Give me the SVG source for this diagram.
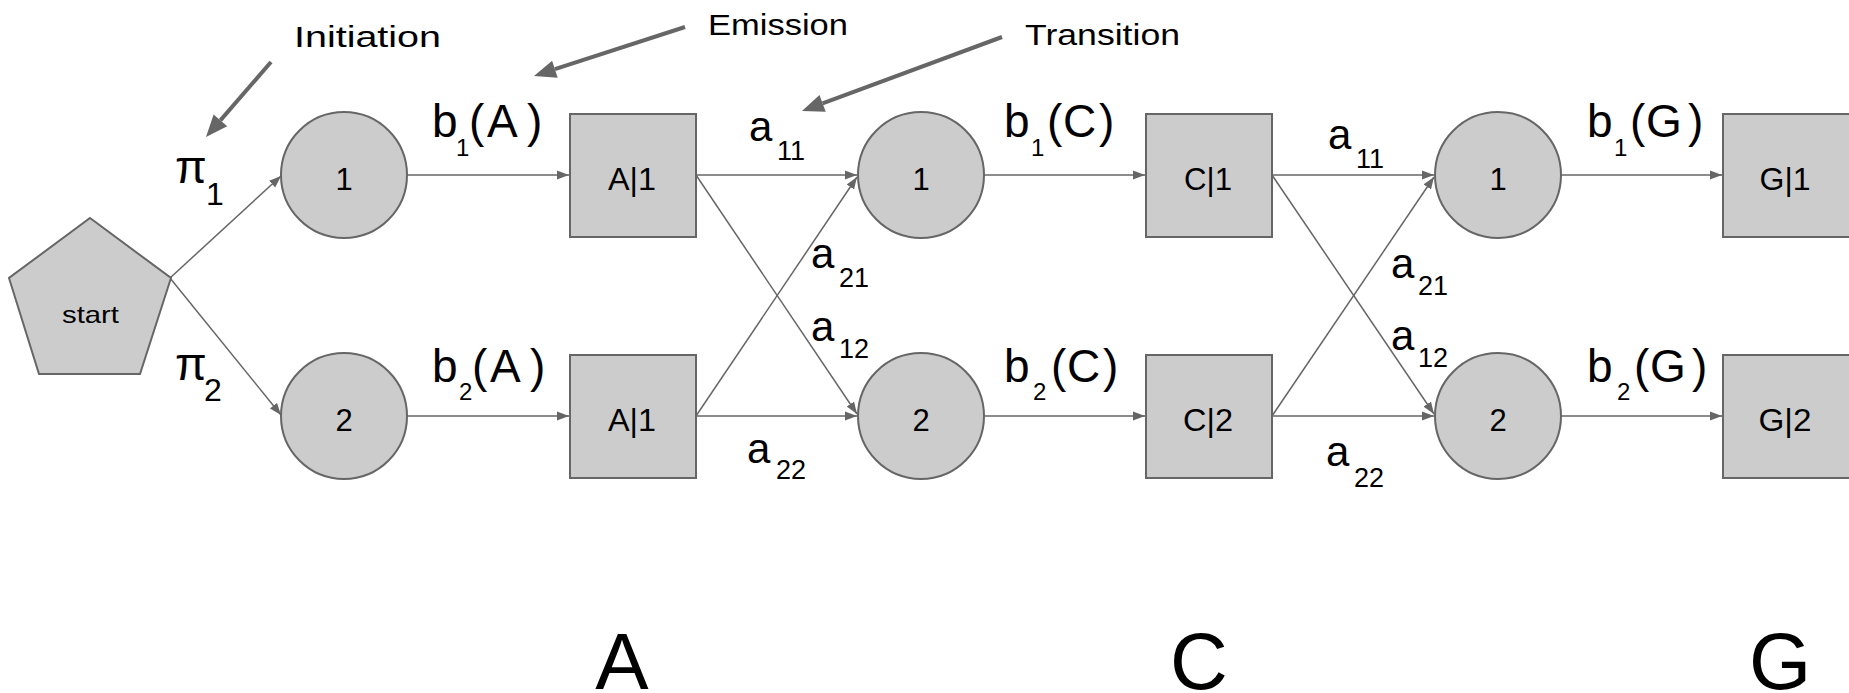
<svg xmlns="http://www.w3.org/2000/svg" width="1849" height="693" viewBox="0 0 1849 693">
<style>
.node{fill:#cccccc;stroke:#666666;stroke-width:2}
.t{font-family:"Liberation Sans",Arial,sans-serif;fill:#000}
.nl{font-size:31px;text-anchor:middle}
.lbl{font-size:46px}
.al{font-size:42px}
.sb{font-size:24px}
.sa{font-size:27px}
.sp{font-size:32px}
.cap{font-size:30px}
.big{font-size:80px;text-anchor:middle}
.conn{stroke:#666666;stroke-width:1.5;fill:none;marker-end:url(#ah)}
.call{stroke:#666666;stroke-width:4;fill:none;marker-end:url(#bh)}
</style>
<defs>
<marker id="ah" markerUnits="userSpaceOnUse" markerWidth="13" markerHeight="10" viewBox="0 0 13 10" refX="12" refY="5" orient="auto">
<path d="M0,0.5 L12,5 L0,9.5 z" fill="#666666"/>
</marker>
<marker id="bh" markerUnits="userSpaceOnUse" markerWidth="24" markerHeight="20" viewBox="0 -10 24 20" refX="0" refY="0" orient="auto" overflow="visible">
<path d="M0,-9 L22,0 L0,9 z" fill="#666666"/>
</marker>
</defs>
<rect width="1849" height="693" fill="#ffffff"/>

<g id="connectors">
<line class="conn" x1="170" y1="278" x2="281" y2="176"/>
<line class="conn" x1="170" y1="278" x2="281" y2="415"/>
<line class="conn" x1="407" y1="175" x2="569" y2="175"/>
<line class="conn" x1="407" y1="416" x2="569" y2="416"/>
<line class="conn" x1="696" y1="175" x2="857" y2="175"/>
<line class="conn" x1="696" y1="175" x2="857" y2="414"/>
<line class="conn" x1="696" y1="416" x2="857" y2="177"/>
<line class="conn" x1="696" y1="416" x2="857" y2="416"/>
<line class="conn" x1="984" y1="175" x2="1145" y2="175"/>
<line class="conn" x1="984" y1="416" x2="1145" y2="416"/>
<line class="conn" x1="1272" y1="175" x2="1434" y2="175"/>
<line class="conn" x1="1272" y1="175" x2="1434" y2="414"/>
<line class="conn" x1="1272" y1="416" x2="1434" y2="177"/>
<line class="conn" x1="1272" y1="416" x2="1434" y2="416"/>
<line class="conn" x1="1561" y1="175" x2="1722" y2="175"/>
<line class="conn" x1="1561" y1="416" x2="1722" y2="416"/>
</g>

<g id="callouts">
<line class="call" x1="271" y1="62" x2="220.4" y2="120.4"/>
<line class="call" x1="685" y1="27" x2="554.9" y2="69.2"/>
<line class="call" x1="1002" y1="37" x2="822.6" y2="103.4"/>
<text class="t cap" x="294" y="47" textLength="147" lengthAdjust="spacingAndGlyphs">Initiation</text>
<text class="t cap" x="708" y="35" textLength="140" lengthAdjust="spacingAndGlyphs">Emission</text>
<text class="t cap" x="1025" y="45" textLength="155" lengthAdjust="spacingAndGlyphs">Transition</text>
</g>

<g id="start">
<polygon class="node" points="90,218 171,278 140,374 39,374 9,278"/>
<text class="t" x="62" y="323" font-size="24" textLength="57" lengthAdjust="spacingAndGlyphs">start</text>
</g>

<g id="s1-1"><circle class="node" cx="344" cy="175" r="63"/><text class="t nl" x="344" y="190">1</text></g>
<g id="s1-2"><circle class="node" cx="344" cy="416" r="63"/><text class="t nl" x="344" y="431">2</text></g>
<g id="e1-1"><rect class="node" x="570" y="114" width="126" height="123"/><text class="t nl" x="632" y="190" textLength="48" lengthAdjust="spacingAndGlyphs">A|1</text></g>
<g id="e1-2"><rect class="node" x="570" y="355" width="126" height="123"/><text class="t nl" x="632" y="431" textLength="48" lengthAdjust="spacingAndGlyphs">A|1</text></g>
<g id="s2-1"><circle class="node" cx="921" cy="175" r="63"/><text class="t nl" x="921" y="190">1</text></g>
<g id="s2-2"><circle class="node" cx="921" cy="416" r="63"/><text class="t nl" x="921" y="431">2</text></g>
<g id="e2-1"><rect class="node" x="1146" y="114" width="126" height="123"/><text class="t nl" x="1208" y="190" textLength="48" lengthAdjust="spacingAndGlyphs">C|1</text></g>
<g id="e2-2"><rect class="node" x="1146" y="355" width="126" height="123"/><text class="t nl" x="1208" y="431" textLength="50" lengthAdjust="spacingAndGlyphs">C|2</text></g>
<g id="s3-1"><circle class="node" cx="1498" cy="175" r="63"/><text class="t nl" x="1498" y="190">1</text></g>
<g id="s3-2"><circle class="node" cx="1498" cy="416" r="63"/><text class="t nl" x="1498" y="431">2</text></g>
<g id="e3-1"><rect class="node" x="1723" y="114" width="128" height="123"/><text class="t nl" x="1785" y="190" textLength="51" lengthAdjust="spacingAndGlyphs">G|1</text></g>
<g id="e3-2"><rect class="node" x="1723" y="355" width="128" height="123"/><text class="t nl" x="1785" y="431" textLength="53" lengthAdjust="spacingAndGlyphs">G|2</text></g>

<g id="labels">
<text class="t lbl" x="175" y="183">π<tspan class="sp" x="206" y="205">1</tspan></text>
<text class="t lbl" x="175" y="380">π<tspan class="sp" x="204" y="401">2</tspan></text>

<text class="t lbl" x="432" y="137">b<tspan class="sb" x="456" y="156">1</tspan><tspan x="469 487 527" y="137">(A)</tspan></text>
<text class="t lbl" x="432" y="382">b<tspan class="sb" x="459" y="400">2</tspan><tspan x="472 490 530" y="382">(A)</tspan></text>
<text class="t lbl" x="1004" y="137">b<tspan class="sb" x="1031" y="156">1</tspan><tspan x="1047 1063 1099" y="137">(C)</tspan></text>
<text class="t lbl" x="1004" y="382">b<tspan class="sb" x="1033" y="400">2</tspan><tspan x="1051 1067 1103" y="382">(C)</tspan></text>
<text class="t lbl" x="1587" y="137">b<tspan class="sb" x="1614" y="156">1</tspan><tspan x="1630 1646 1688" y="137">(G)</tspan></text>
<text class="t lbl" x="1587" y="382">b<tspan class="sb" x="1617" y="400">2</tspan><tspan x="1634 1650 1692" y="382">(G)</tspan></text>

<text class="t al" x="749" y="141">a<tspan class="sa" x="777" y="160">11</tspan></text>
<text class="t al" x="811" y="268">a<tspan class="sa" x="839" y="287">21</tspan></text>
<text class="t al" x="811" y="341">a<tspan class="sa" x="839" y="358">12</tspan></text>
<text class="t al" x="747" y="463">a<tspan class="sa" x="776" y="479">22</tspan></text>
<text class="t al" x="1328" y="149">a<tspan class="sa" x="1356" y="168">11</tspan></text>
<text class="t al" x="1391" y="278">a<tspan class="sa" x="1418" y="295">21</tspan></text>
<text class="t al" x="1391" y="350">a<tspan class="sa" x="1418" y="367">12</tspan></text>
<text class="t al" x="1326" y="466">a<tspan class="sa" x="1354" y="487">22</tspan></text>
</g>

<g id="observations">
<text class="t big" x="622" y="689">A</text>
<text class="t big" x="1199" y="689">C</text>
<text class="t big" x="1780" y="689">G</text>
</g>
</svg>
